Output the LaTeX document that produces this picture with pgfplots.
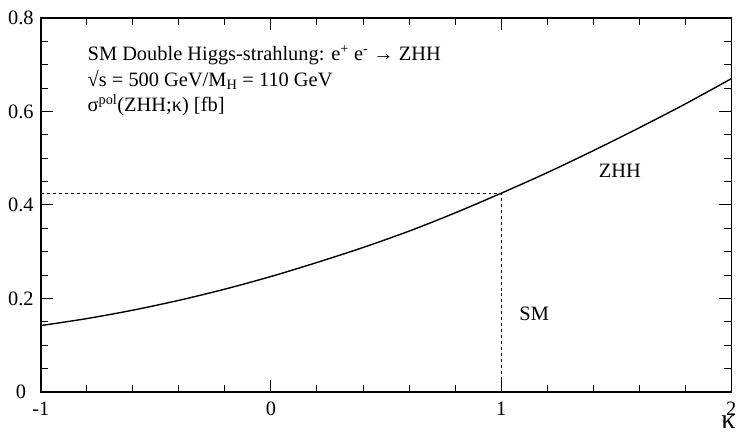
\documentclass[border=0pt]{standalone}
\usepackage{fontspec}
\setmainfont{Liberation Serif}
\usepackage{pgfplots}
\pgfplotsset{compat=1.18}
\begin{document}
\fontsize{20}{24}\selectfont
\begin{tikzpicture}
\begin{axis}[
  scale only axis, width=694pt, height=376pt,
  xmin=-1, xmax=2, ymin=0, ymax=0.8,
  xtick={-1,0,1,2}, xticklabels={-1,0,1,2},
  ytick={0,0.2,0.4,0.6,0.8}, yticklabels={0,0.2,0.4,0.6,0.8},
  minor x tick num=4, minor y tick num=3,
  tick align=inside, major tick length=12pt, minor tick length=7pt,
  tick style={black, line width=1pt},
  axis line style={line width=1.5pt},
  every tick label/.append style={font=\fontsize{20.5}{24}\selectfont},
  yticklabel style={anchor=center, xshift=-20pt},
  xticklabel style={yshift=-3pt},
]
\addplot[black, line width=1.4pt, smooth] coordinates {
(-1.0,0.142) (-0.8,0.157) (-0.6,0.175) (-0.4,0.196) (-0.2,0.220)
(0.0,0.247) (0.2,0.277) (0.4,0.309) (0.6,0.344) (0.8,0.383)
(1.0,0.425) (1.2,0.469) (1.4,0.516) (1.6,0.565) (1.8,0.616) (2.0,0.670)};
\addplot[black, line width=1.1pt, dash pattern=on 3pt off 3pt] coordinates {(-1,0.425) (1,0.425)};
\addplot[black, line width=1.1pt, dash pattern=on 3pt off 3pt] coordinates {(1,0) (1,0.425)};
\node[anchor=north west, inner sep=0pt, align=left, font=\fontsize{20.5}{25.5}\selectfont] at (axis cs:-0.797,0.742)
  {SM Double Higgs-strahlung: e\textsuperscript{+} e\textsuperscript{-} → ZHH\\
   √s = 500 GeV/M\textsubscript{H} = 110 GeV\\
   σ\textsuperscript{pol}(ZHH;κ) [fb]};
\node[anchor=center, font=\fontsize{20.5}{24}\selectfont] at (axis cs:1.516,0.472) {ZHH};
\node[anchor=west, inner sep=0pt, font=\fontsize{20.5}{24}\selectfont] at (axis cs:1.079,0.168) {SM};
\coordinate (o) at (rel axis cs:0,0);
\coordinate (e) at (rel axis cs:1,0);
\end{axis}
\node[font=\fontsize{28}{30}\selectfont, inner sep=0pt] at ([xshift=-3pt,yshift=-30pt]e) {κ};
\path (o) ++(-41pt,-49pt) rectangle ++(743pt,443pt);
\end{tikzpicture}
\end{document}
